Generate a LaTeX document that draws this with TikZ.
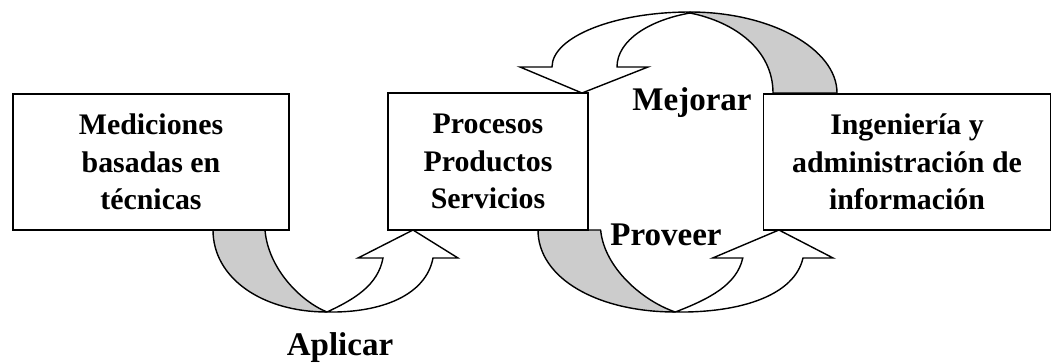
\documentclass[tikz,border=0pt]{standalone}
\usepackage{fontspec}
\setmainfont{Liberation Serif}
\tikzset{
  box/.style={draw, line width=1pt, fill=white, inner sep=0pt, align=center,
    font=\fontsize{17}{21.3}\selectfont\bfseries},
  lbl/.style={font=\fontsize{18.8}{22}\selectfont\bfseries, inner sep=0pt, anchor=base},
  band/.style={draw, line width=0.8pt, fill=gray!40, line join=round},
  ribbon/.style={draw, line width=0.8pt, fill=white, line join=miter},
}
\begin{document}
\begin{tikzpicture}[x=0.02cm, y=-0.02cm]
\useasboundingbox (0,0) rectangle (1054,362);

% arrow "Aplicar" (box 1 -> box 2)
\path[band] (213,230) .. controls (213,278) and (262,312) .. (327,312)
  .. controls (300,301) and (268,268) .. (265,230) -- cycle;
\path[ribbon] (327,312) .. controls (382,313) and (426,295) .. (433,258)
  -- (458,258) -- (413,230) -- (358,258) -- (383,258)
  .. controls (378,285) and (355,299) .. (327,312) -- cycle;

% arrow "Proveer" (box 2 -> box 3)
\begin{scope}[shift={(538,0)}, xscale=1.2045, shift={(-213,0)}]
\path[band] (213,230) .. controls (213,278) and (262,312) .. (327,312)
  .. controls (300,301) and (268,268) .. (265,230) -- cycle;
\path[ribbon] (327,312) .. controls (382,313) and (426,295) .. (433,258)
  -- (458,258) -- (413,230) -- (358,258) -- (383,258)
  .. controls (378,285) and (355,299) .. (327,312) -- cycle;
\end{scope}

% arrow "Mejorar" (box 3 -> box 2)
\path[band] (837,93) .. controls (837,49) and (771,12) .. (690,12)
  -- (690,13) .. controls (735,22) and (773,50) .. (773,93) -- cycle;
\path[ribbon] (690,12) .. controls (614,12) and (552,37) .. (552,67)
  -- (520,67) -- (582,93) -- (648,67) -- (617,67)
  .. controls (617,40) and (650,20) .. (690,13) -- cycle;

% boxes
\node[box, minimum width=5.52cm, minimum height=2.72cm] (b1) at (151,162)
  {Mediciones\\basadas en\\técnicas};
\node[box, minimum width=4.00cm, minimum height=2.74cm] (b2) at (488,161.5)
  {Procesos\\Productos\\Servicios};
\node[box, minimum width=5.74cm, minimum height=2.72cm] (b3) at (907,162)
  {Ingeniería y\\administración de\\información};

% labels
\node[lbl] (l1) at (340,355) {Aplicar};
\node[lbl] (l2) at (666,245) {Proveer};
\node[lbl] (l3) at (692,110) {Mejorar};
\end{tikzpicture}
\end{document}
